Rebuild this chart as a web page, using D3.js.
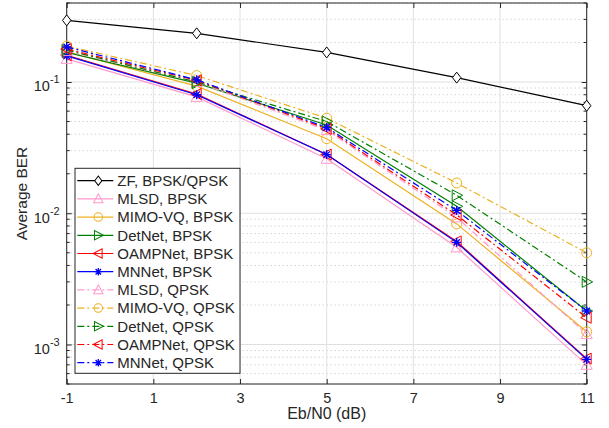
<!DOCTYPE html>
<html><head><meta charset="utf-8">
<script src="https://cdn.jsdelivr.net/npm/d3@7"></script>
<style>body{margin:0;background:#fff}svg{display:block}text{font-family:"Liberation Sans",Arial,sans-serif;fill:#262626}</style>
</head><body><svg id="c" width="609" height="428"></svg>
<script>
const xs = [-1, 2, 5, 8, 11];
const xTicks = [-1, 1, 3, 5, 7, 9, 11];
const xTickLabels = ["-1", "1", "3", "5", "7", "9", "11"];
const yTicks = [1e-3, 1e-2, 1e-1];
const yTickExp = ["-3", "-2", "-1"];
const seriesNames = ["ZF, BPSK/QPSK","MLSD, BPSK","MIMO-VQ, BPSK","DetNet, BPSK","OAMPNet, BPSK","MNNet, BPSK","MLSD, QPSK","MIMO-VQ, QPSK","DetNet, QPSK","OAMPNet, QPSK","MNNet, QPSK"];
const zf    = [0.295, 0.235, 0.168, 0.108, 0.066];
const mlsdB = [0.150, 0.077, 0.026, 0.0055, 0.00070];
const vqB   = [0.170, 0.093, 0.037, 0.0083, 0.00125];
const detB  = [0.168, 0.098, 0.047, 0.0113, 0.0018];
const oampB = [0.160, 0.081, 0.028, 0.0061, 0.00078];
const mnB   = [0.158, 0.080, 0.028, 0.0060, 0.00077];
const mlsdQ = [0.172, 0.100, 0.043, 0.0093, 0.0012];
const vqQ   = [0.188, 0.112, 0.053, 0.0170, 0.0050];
const detQ  = [0.175, 0.100, 0.050, 0.0137, 0.0030];
const oampQ = [0.178, 0.103, 0.044, 0.0097, 0.0016];
const mnQ   = [0.185, 0.104, 0.045, 0.0105, 0.0018];
const allValues = [zf, mlsdB, vqB, detB, oampB, mnB, mlsdQ, vqQ, detQ, oampQ, mnQ];
const colors = ["#000000","#ff99cc","#edb120","#008000","#ff0000","#0000ff","#ff99cc","#edb120","#008000","#ff0000","#0000ff"];
const markers = ["diamond","up","circle","right","left","star","up","circle","right","left","star"];
const dashed = [false,false,false,false,false,false,true,true,true,true,true];

const L=66.7, R=586.7, T=3, B=384;
const svg = d3.select("#c");
const x = d3.scaleLinear().domain([-1,11]).range([L,R]);
const y = d3.scaleLog().domain([5e-4,0.4]).range([B,T]);

// minor grid
const minor=[];
[1e-4,1e-3,1e-2,1e-1].forEach(d=>{for(let k=2;k<=9;k++){const v=d*k; if(v>=5e-4&&v<=0.4) minor.push(v);}});
const g = svg.append("g");
g.selectAll(".mg").data(minor).join("line").attr("x1",L).attr("x2",R).attr("y1",d=>y(d)).attr("y2",d=>y(d))
 .attr("stroke","#c4c4c4").attr("stroke-width",1).attr("stroke-dasharray","1,3");
g.selectAll(".gy").data(yTicks).join("line").attr("x1",L).attr("x2",R).attr("y1",d=>y(d)).attr("y2",d=>y(d))
 .attr("stroke","#e0e0e0").attr("stroke-width",1);
g.selectAll(".gx").data(xTicks).join("line").attr("y1",T).attr("y2",B).attr("x1",d=>x(d)).attr("x2",d=>x(d))
 .attr("stroke","#e0e0e0").attr("stroke-width",1);

// axes with inward ticks
const ax = svg.append("g");
ax.append("g").attr("transform",`translate(0,${B})`).call(d3.axisBottom(x).tickValues(xTicks).tickSizeInner(-5).tickSizeOuter(0).tickPadding(9).tickFormat((d,i)=>xTickLabels[i]))
 .call(s=>{s.select(".domain").remove();s.selectAll("text").attr("font-size",14.5).attr("fill","#262626").attr("font-family","Liberation Sans, Arial, sans-serif");s.selectAll("line").attr("stroke","#262626");});
ax.append("g").attr("transform",`translate(0,${T})`).call(d3.axisTop(x).tickValues(xTicks).tickSizeInner(-5).tickSizeOuter(0).tickFormat(""))
 .call(s=>{s.select(".domain").remove();s.selectAll("line").attr("stroke","#262626");});
ax.append("g").attr("transform",`translate(${L},0)`).call(d3.axisLeft(y).tickValues(yTicks).tickSizeInner(-5).tickSizeOuter(0).tickFormat(""))
 .call(s=>{s.select(".domain").remove();s.selectAll("line").attr("stroke","#262626");});
ax.append("g").attr("transform",`translate(${R},0)`).call(d3.axisRight(y).tickValues(yTicks).tickSizeInner(-5).tickSizeOuter(0).tickFormat(""))
 .call(s=>{s.select(".domain").remove();s.selectAll("line").attr("stroke","#262626");});
ax.selectAll(".ml").data(minor).join("line").attr("x1",L).attr("x2",L+3).attr("y1",d=>y(d)).attr("y2",d=>y(d)).attr("stroke","#262626");
ax.selectAll(".mr").data(minor).join("line").attr("x1",R-3).attr("x2",R).attr("y1",d=>y(d)).attr("y2",d=>y(d)).attr("stroke","#262626");
svg.append("rect").attr("x",L).attr("y",T).attr("width",R-L).attr("height",B-T).attr("fill","none").attr("stroke","#262626").attr("stroke-width",1);

// y tick labels 10^n
yTicks.forEach((v,i)=>{
  const t = svg.append("text").attr("x",L-7).attr("y",y(v)+9.3).attr("text-anchor","end").attr("font-size",14.5);
  t.append("tspan").text("10");
  t.append("tspan").attr("dy",-8).attr("font-size",11).text(yTickExp[i]);
});
svg.append("text").attr("transform",`translate(26.5,${(T+B)/2}) rotate(-90)`).attr("text-anchor","middle").attr("font-size",15.5).text("Average BER");
svg.append("text").attr("x",(L+R)/2).attr("y",419).attr("text-anchor","middle").attr("font-size",16).text("Eb/N0 (dB)");

function marker(sel, type, color, sc){
  sc = sc || 1;
  const m = sel.append("g").attr("transform",`scale(${sc})`);
  const sw = 1/sc;
  if(type==="diamond") m.append("path").attr("d","M0,-5.5L4.2,0L0,5.5L-4.2,0Z").attr("fill","#fff").attr("stroke",color).attr("stroke-width",sw);
  else if(type==="circle") m.append("circle").attr("r",5).attr("fill","none").attr("stroke",color).attr("stroke-width",sw);
  else if(type==="up") m.append("path").attr("d","M0,-6L5.5,4.5L-5.5,4.5Z").attr("fill","none").attr("stroke",color).attr("stroke-width",sw);
  else if(type==="right") m.append("path").attr("d","M6,0L-4.5,-5.5L-4.5,5.5Z").attr("fill","none").attr("stroke",color).attr("stroke-width",sw);
  else if(type==="left") m.append("path").attr("d","M-6,0L4.5,-5.5L4.5,5.5Z").attr("fill","none").attr("stroke",color).attr("stroke-width",sw);
  else if(type==="star"){
    m.append("path").attr("d","M0,-4.5V4.5M-4.5,0H4.5M-3.2,-3.2L3.2,3.2M-3.2,3.2L3.2,-3.2").attr("stroke",color).attr("stroke-width",1.3*sw).attr("fill","none");
  }
}

const line = d3.line().x((d,i)=>x(xs[i])).y(d=>y(d));
const plot = svg.append("g");
allValues.forEach((vals,k)=>{
  plot.append("path").datum(vals).attr("d",line).attr("fill","none").attr("stroke",colors[k]).attr("stroke-width",1.2)
    .attr("stroke-dasharray",dashed[k]?"7,3,2,3":null);
  vals.forEach((v,i)=>{
    marker(plot.append("g").attr("transform",`translate(${x(xs[i])},${y(v)})`),markers[k],colors[k],1);
  });
});

// legend
const lg = svg.append("g");
const lx=75, ly=168.3, lw=165, lh=205;
lg.append("rect").attr("x",lx).attr("y",ly).attr("width",lw).attr("height",lh).attr("fill","#fff").attr("stroke","#262626").attr("stroke-width",1);
seriesNames.forEach((nm,k)=>{
  const yy = 180.7 + k*18.2;
  lg.append("line").attr("x1",77.3).attr("x2",113.3).attr("y1",yy).attr("y2",yy).attr("stroke",colors[k]).attr("stroke-width",1.2)
    .attr("stroke-dasharray",dashed[k]?"7,3,2,3":null);
  marker(lg.append("g").attr("transform",`translate(98.3,${yy})`),markers[k],colors[k],0.85);
  lg.append("text").attr("x",117.3).attr("y",yy+5.3).attr("font-size",15).text(nm);
});
</script></body></html>
